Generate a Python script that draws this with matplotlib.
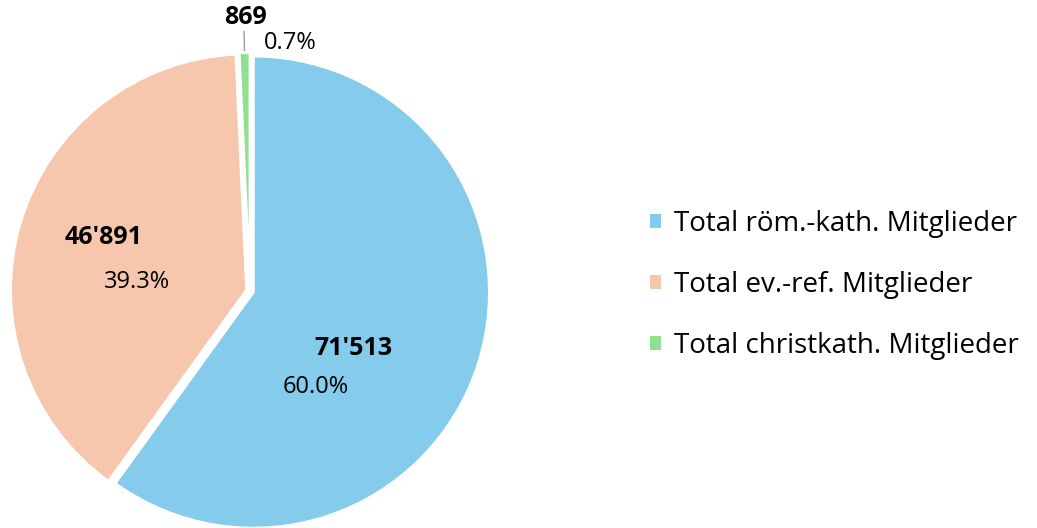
import numpy as np
import matplotlib.pyplot as plt
from matplotlib.patches import Patch

plt.rcParams['font.family'] = ['Open Sans', 'DejaVu Sans']

labels = ['Total röm.-kath. Mitglieder', 'Total ev.-ref. Mitglieder', 'Total christkath. Mitglieder']
values = [71513, 46891, 869]
value_text = ["71'513", "46'891", "869"]
colors = ['#85cbeb', '#f6c6ad', '#8fe08f']

total = sum(values)
pcts = [v / total * 100 for v in values]

fig = plt.figure(figsize=(10.37, 5.28), dpi=100)
ax = fig.add_axes([0, 0, 500 / 1037, 1])

wedges, _ = ax.pie(values, colors=colors, startangle=90, counterclock=False,
                   explode=[0.015, 0.015, 0.01],
                   wedgeprops=dict(edgecolor='white', linewidth=2))

ax.set_xlim(-250 / 236, 250 / 236)
ax.set_ylim(-237 / 236, 291 / 236)
ax.set_aspect('auto')

# value / percent labels
val_pos = [(0.44, -0.242), (-0.62, 0.225), (-0.02, 1.16)]
pct_pos = [(0.28, -0.407), (-0.479, 0.038), (0.17, 1.05)]
for i in range(3):
    ax.text(*val_pos[i], value_text[i], ha='center', va='center',
            fontsize=18, fontweight='bold', color='black')
    ax.text(*pct_pos[i], f'{pcts[i]:.1f}%', ha='center', va='center',
            fontsize=17, color='black')

# leader line for the small slice
ang = np.deg2rad((wedges[2].theta1 + wedges[2].theta2) / 2)
ax.plot([np.cos(ang) * 1.02, np.cos(ang) * 1.1], [np.sin(ang) * 1.02, np.sin(ang) * 1.1],
        color='#999999', lw=1)

handles = [Patch(facecolor=c, edgecolor='none') for c in colors]
fig.legend(handles, labels, loc='center left', bbox_to_anchor=(0.603, 0.460),
           frameon=False, fontsize=20, handlelength=0.4, handleheight=0.4,
           handletextpad=0.45, labelspacing=1.19)

fig.savefig('out.png', dpi=100)
